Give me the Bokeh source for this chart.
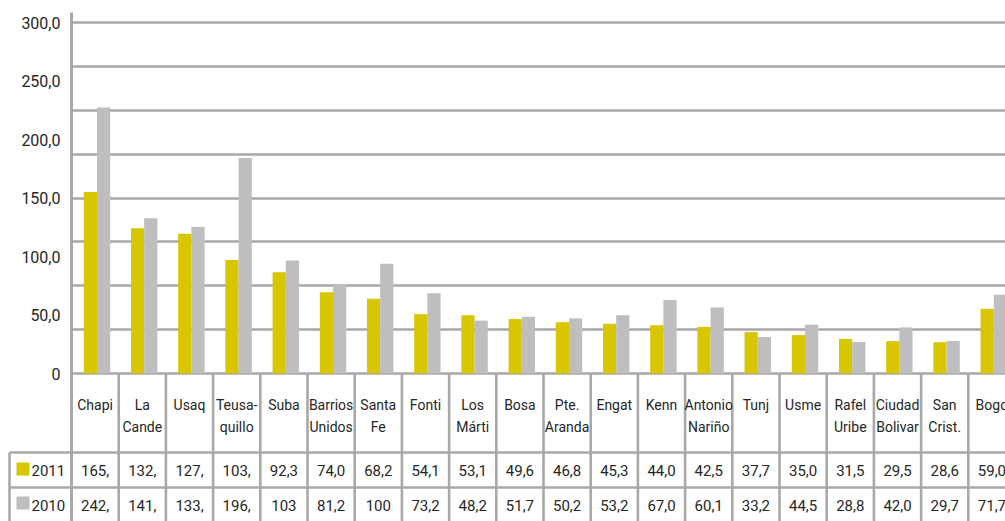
from bokeh.plotting import figure
from bokeh.models import Range1d, FixedTicker, CustomJSTickFormatter, ColumnDataSource, LinearAxis, BoxAnnotation
from bokeh.embed import file_html
from bokeh.resources import INLINE
from bokeh.core.properties import value
import numpy as np

# ---------------- data ----------------
categories = ["Chapi", "La\nCande", "Usaq", "Teusa-\nquillo", "Suba", "Barrios\nUnidos",
              "Santa\nFe", "Fonti", "Los\nMárti", "Bosa", "Pte.\nAranda", "Engat", "Kenn",
              "Antonio\nNariño", "Tunj", "Usme", "Rafel\nUribe", "Ciudad\nBolivar",
              "San\nCrist.", "Bogo"]
v2011 = [165.5, 132.5, 127.5, 103.5, 92.3, 74.0, 68.2, 54.1, 53.1, 49.6, 46.8, 45.3, 44.0,
         42.5, 37.7, 35.0, 31.5, 29.5, 28.6, 59.0]
v2010 = [242.5, 141.5, 133.5, 196.5, 103.0, 81.2, 100.0, 73.2, 48.2, 51.7, 50.2, 53.2, 67.0,
         60.1, 33.2, 44.5, 28.8, 42.0, 29.7, 71.7]
t2011 = ["165,", "132,", "127,", "103,", "92,3", "74,0", "68,2", "54,1", "53,1", "49,6", "46,8",
         "45,3", "44,0", "42,5", "37,7", "35,0", "31,5", "29,5", "28,6", "59,0"]
t2010 = ["242,", "141,", "133,", "196,", "103", "81,2", "100", "73,2", "48,2", "51,7", "50,2",
         "53,2", "67,0", "60,1", "33,2", "44,5", "28,8", "42,0", "29,7", "71,7"]
series = ["2011", "2010"]
y_tick_labels = ["0", "50,0", "100,0", "150,0", "200,0", "250,0", "300,0"]
y_max = 320
grid_step = 40

# ---------------- style / geometry ----------------
YELLOW = "#D8C600"
GRAY = "#BEBEC0"
LINE = "#A8A8A8"
TXT = "#262626"
FONT = "Roboto"

W, H = 1005, 521
COL_PX = 47.2          # column width in px
AXIS_PX = 71           # x pixel of the value axis
BASE_PX = 373          # y pixel of the zero line
TOP_PX = 22            # y pixel of the top grid line (y_max)
ppu = (BASE_PX - TOP_PX) / y_max   # px per value unit


def ux(px):   # horizontal pixel -> x data
    return (px - AXIS_PX) / COL_PX


def uy(px):   # vertical pixel -> y data
    return (BASE_PX - px) / ppu


n = len(categories)
idx = np.arange(n)
bar_w = 0.28
shift = 0.04

p = figure(width=W, height=H, output_backend="svg", toolbar_location=None,
           x_range=Range1d(ux(0), ux(W)), y_range=Range1d(uy(H), uy(0)),
           x_axis_location=None, y_axis_location=None,
           min_border_left=0, min_border_right=0, min_border_top=0, min_border_bottom=0)
p.outline_line_color = None
p.xgrid.visible = False
p.ygrid.ticker = FixedTicker(ticks=list(range(0, y_max + 1, grid_step)))
p.ygrid.grid_line_color = LINE
p.ygrid.grid_line_width = 2.6
try:
    p.ygrid.cross_bounds = (0, ux(W))
except Exception:
    p.add_layout(BoxAnnotation(right=0, bottom=uy(BASE_PX + 2), fill_color="white", fill_alpha=1,
                               line_color=None, level="glyph"))

# bars
src = ColumnDataSource(dict(x1=idx + 0.5 + shift - bar_w / 2, x2=idx + 0.5 + shift + bar_w / 2,
                            a=v2011, b=v2010))
p.vbar(x="x1", top="a", bottom=0, width=bar_w, source=src, fill_color=YELLOW, line_color=None)
p.vbar(x="x2", top="b", bottom=0, width=bar_w, source=src, fill_color=GRAY, line_color=None)

# value axis
yax = LinearAxis(fixed_location=0, bounds=(uy(H), uy(12)))
yax.ticker = FixedTicker(ticks=[k * y_max / 6 for k in range(7)])
yax.formatter = CustomJSTickFormatter(args=dict(labels=y_tick_labels), code="return labels[index];")
yax.major_tick_out = 0
yax.major_tick_in = 0
yax.minor_tick_out = 0
yax.minor_tick_in = 0
yax.axis_line_color = LINE
yax.axis_line_width = 3
yax.major_label_standoff = 11
yax.major_label_text_font = FONT
yax.major_label_text_font_size = "16px"
yax.major_label_text_color = TXT
p.add_layout(yax, "left")

# ---------------- data table ----------------
bottom = uy(H)
# column separators
p.segment(x0=idx, y0=0, x1=idx, y1=bottom, line_color=LINE, line_width=2.6)
# row lines
rows_y = [uy(452), uy(487)]
left_edge = ux(9)
p.segment(x0=[left_edge] * 2, y0=rows_y, x1=[ux(W)] * 2, y1=rows_y, line_color=LINE, line_width=2.6)
p.segment(x0=[left_edge], y0=[rows_y[0]], x1=[left_edge], y1=[bottom], line_color=LINE, line_width=2.6)

# header labels
p.text(x=idx + 0.5, y=uy(396), text=categories, text_align="center", text_baseline="top",
       text_font=value(FONT), text_font_size="14px", text_color=TXT, text_line_height=1.42)
# values
p.text(x=idx + 0.5, y=uy(470), text=t2011, text_align="center", text_baseline="middle",
       text_font=value(FONT), text_font_size="15px", text_color=TXT)
p.text(x=idx + 0.5, y=uy(504.5), text=t2010, text_align="center", text_baseline="middle",
       text_font=value(FONT), text_font_size="15px", text_color=TXT)
# legend keys
p.rect(x=[ux(22.5)] * 2, y=[uy(468.5), uy(502.5)], width=13, height=13, width_units="screen",
       height_units="screen", fill_color=[YELLOW, GRAY], line_color=None)
p.text(x=[ux(31)] * 2, y=[uy(470), uy(504.5)], text=series, text_align="left",
       text_baseline="middle", text_font=value(FONT), text_font_size="15px", text_color=TXT)

open("out.html", "w").write(file_html(p, INLINE))
